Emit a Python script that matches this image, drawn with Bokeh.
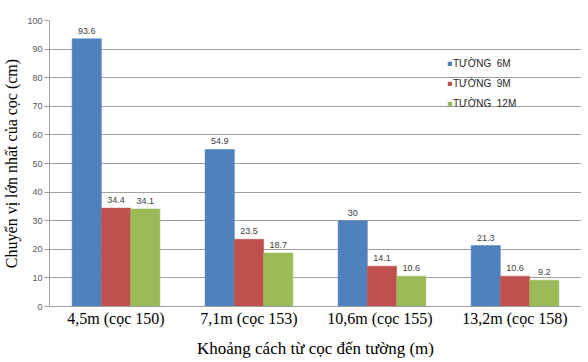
from bokeh.plotting import figure
from bokeh.models import ColumnDataSource, FactorRange, Legend, LegendItem
from bokeh.transform import dodge
from bokeh.core.properties import value
from bokeh.embed import file_html
from bokeh.resources import INLINE

categories = ["4,5m (cọc 150)", "7,1m (cọc 153)", "10,6m  (cọc 155)", "13,2m (cọc 158)"]
series_names = ["TƯỜNG  6M", "TƯỜNG  9M", "TƯỜNG  12M"]
wall_6m = [93.6, 54.9, 30, 21.3]
wall_9m = [34.4, 23.5, 14.1, 10.6]
wall_12m = [34.1, 18.7, 10.6, 9.2]
colors = ["#4F81BD", "#C0504D", "#9BBB59"]
y_ticks = [0, 10, 20, 30, 40, 50, 60, 70, 80, 90, 100]

src = ColumnDataSource(dict(
    cat=categories,
    s6=wall_6m, s9=wall_9m, s12=wall_12m,
    l6=[f"{v:g}" for v in wall_6m],
    l9=[f"{v:g}" for v in wall_9m],
    l12=[f"{v:g}" for v in wall_12m],
))

p = figure(x_range=FactorRange(*categories, range_padding=0), y_range=(0, 100),
           width=572, height=358, output_backend="svg", toolbar_location=None,
           min_border_left=40, min_border_right=0, min_border_top=20, min_border_bottom=52,
           frame_width=532, frame_height=286)
p.x_range.factor_padding = 0
p.outline_line_color = None
p.background_fill_color = "white"

bw = 0.22
offsets = [-bw, 0, bw]
keys = ["s6", "s9", "s12"]
lkeys = ["l6", "l9", "l12"]
renderers = []
for k, lk, off, c in zip(keys, lkeys, offsets, colors):
    r = p.vbar(x=dodge("cat", off, range=p.x_range), top=k, width=bw, source=src,
               fill_color=c, line_color=c, line_width=0.5)
    renderers.append(r)
    p.text(x=dodge("cat", off, range=p.x_range), y=k, text=lk, source=src,
           text_align="center", text_baseline="bottom", y_offset=-5,
           text_font=value("Liberation Sans"), text_font_size="9px", text_color="#404040")

legend = Legend(items=[LegendItem(label=n, renderers=[r]) for n, r in zip(series_names, renderers)],
                location=(398, 197), glyph_width=5, glyph_height=5, label_height=12,
                spacing=8, padding=0, margin=0, label_standoff=1,
                label_text_font="Liberation Sans", label_text_font_size="10px",
                label_text_color="#262626", background_fill_alpha=0, border_line_color=None)
p.add_layout(legend)

p.xgrid.grid_line_color = None
p.ygrid.grid_line_color = "#a0a0a0"
p.ygrid.grid_line_width = 1
p.yaxis.ticker = y_ticks
p.yaxis.axis_line_color = "#a0a0a0"
p.yaxis.major_tick_line_color = "#a0a0a0"
p.yaxis.major_tick_out = 5
p.yaxis.major_tick_in = 0
p.yaxis.minor_tick_line_color = None
p.yaxis.major_label_text_font = "Liberation Sans"
p.yaxis.major_label_text_font_size = "9px"
p.yaxis.major_label_text_color = "#595959"
p.yaxis.major_label_standoff = 2
p.yaxis.axis_label = "Chuyển vị lớn nhất của cọc (cm)"
p.yaxis.axis_label_text_font = "Liberation Serif"
p.yaxis.axis_label_text_font_size = "16px"
p.yaxis.axis_label_text_font_style = "normal"
p.yaxis.axis_label_text_color = "black"
p.yaxis.axis_label_standoff = 4

p.xaxis.axis_line_color = "#a0a0a0"
p.xaxis.major_tick_line_color = None
p.xaxis.major_tick_out = 0
p.xaxis.major_tick_in = 0
p.xaxis.major_label_text_font = "Liberation Serif"
p.xaxis.major_label_text_font_size = "16px"
p.xaxis.major_label_text_color = "black"
p.xaxis.major_label_standoff = 3
p.xaxis.axis_label = "Khoảng cách từ cọc đến tường (m)"
p.xaxis.axis_label_text_font = "Liberation Serif"
p.xaxis.axis_label_text_font_size = "17px"
p.xaxis.axis_label_text_font_style = "normal"
p.xaxis.axis_label_text_color = "black"
p.xaxis.axis_label_standoff = 9

open("out.html", "w").write(file_html(p, INLINE))
